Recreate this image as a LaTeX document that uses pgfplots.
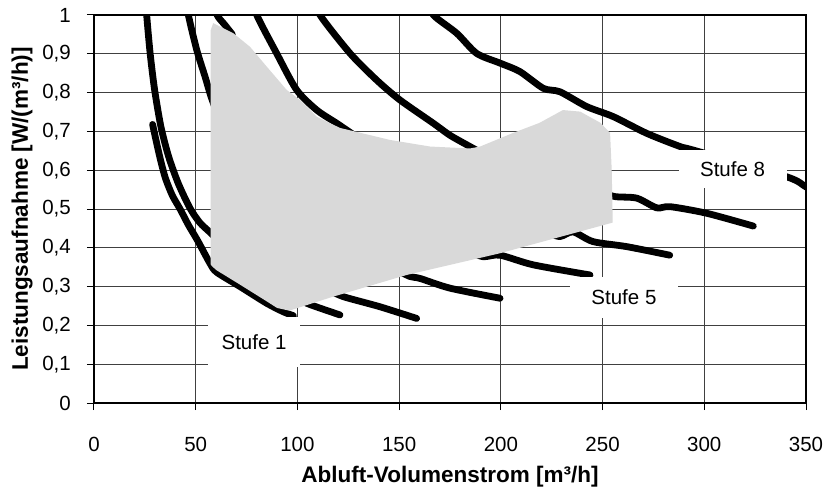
\documentclass[border=0pt]{standalone}
\usepackage{fontspec}
\setmainfont{Liberation Sans}
\usepackage{pgfplots}
\pgfplotsset{compat=1.18}
\begin{document}
\begin{tikzpicture}
\begin{axis}[
  scale only axis, width=712pt, height=388pt,
  xmin=0, xmax=350, ymin=0, ymax=1,
  xtick={0,50,100,150,200,250,300,350},
  ytick={0,0.1,0.2,0.3,0.4,0.5,0.6,0.7,0.8,0.9,1},
  /pgf/number format/assume math mode=true,
  yticklabel style={/pgf/number format/fixed, /pgf/number format/use comma, /pgf/number format/precision=1},
  tick label style={font=\fontsize{20.5}{24}\selectfont},
  label style={font=\bfseries\fontsize{22.5}{26}\selectfont},
  grid=major, grid style={black!75, line width=0.9pt},
  axis line style={line width=1.3pt},
  tick align=outside, major tick length=7pt, tick style={black, line width=1pt},
  xtick pos=left, ytick pos=left,
  xlabel={Abluft-Volumenstrom [m³/h]},
  ylabel={Leistungsaufnahme [W/(m³/h)]},
  xlabel style={at={(axis description cs:0.5,-0.1907)}, anchor=center},
  ylabel style={at={(axis description cs:-0.1011,0.5)}, anchor=center},
  xticklabel style={anchor=center, inner sep=0pt, yshift=-34pt},
  yticklabel style={anchor=east, inner sep=0pt, xshift=-16pt},
  curve/.style={black, line width=6.8pt, line cap=round, line join=round, no marks, smooth, tension=0.45},
]
% Stufe 1 (short inner curve)
\addplot[curve] coordinates {(28.8,0.718) (31,0.665) (33,0.62) (35.2,0.578) (38.5,0.535) (42.3,0.5) (46.5,0.458) (51,0.418) (57,0.36) (60.3,0.337) (71.8,0.3) (84.9,0.257) (93.1,0.235) (98,0.225)};
% curve A
\addplot[curve] coordinates {(25.8,1.03) (25.9,1.0) (27.6,0.901) (29.8,0.807) (32.9,0.712) (36.7,0.635) (41.5,0.565) (47.2,0.502) (52,0.465) (57,0.44) (62,0.415)};
\addplot[curve] coordinates {(98,0.275) (104.6,0.257) (112.5,0.242) (120.9,0.227)};
% curve B
\addplot[curve] coordinates {(46.2,1.03) (46.4,1.0) (50.5,0.91) (54.6,0.841) (57.5,0.79) (61,0.74)};
\addplot[curve] coordinates {(116,0.29) (122.6,0.274) (140.6,0.248) (158.6,0.218)};
% curve C
\addplot[curve] coordinates {(60.3,1.03) (60.5,1.0) (64.4,0.974) (68,0.95)};
\addplot[curve] coordinates {(148,0.345) (155.3,0.326) (160.3,0.321) (175,0.296) (199.6,0.27)};
% curve D
\addplot[curve] coordinates {(79.7,1.03) (80,1.0) (89.8,0.901) (99.6,0.807) (109.5,0.755) (119.3,0.721) (128,0.69)};
\addplot[curve] coordinates {(184,0.39) (191.4,0.377) (199.6,0.381) (216,0.356) (243.8,0.33)};
% curve T6
\addplot[curve] coordinates {(222,0.44) (229,0.429) (235.5,0.441) (245.3,0.416) (261.9,0.403) (283,0.381)};
% curve E
\addplot[curve] coordinates {(110.8,1.03) (111.1,1.0) (125.9,0.901) (139,0.832) (150.4,0.781) (166.8,0.721) (175,0.69) (184.8,0.661) (192,0.64)};
\addplot[curve] coordinates {(248,0.545) (256.1,0.532) (266.8,0.528) (276.6,0.503) (283.2,0.506) (301.2,0.489) (324.1,0.456)};
% curve F (Stufe 8)
\addplot[curve] coordinates {(166.5,1.03) (166.8,1.0) (178.3,0.953) (188.1,0.901) (199.6,0.876) (209.4,0.854) (220.9,0.811) (229.1,0.802) (242.2,0.764) (255.3,0.738) (271.7,0.695) (288.1,0.661) (294.5,0.652) (340.5,0.583) (350,0.557) (356,0.545)};
% grey operating range
\addplot[fill=black!15, draw=none] coordinates {(57.3,0.358) (57.3,0.96) (58.6,0.979) (68.5,0.953) (76.7,0.918) (84.9,0.867) (94.7,0.807) (101.3,0.781) (109.5,0.738) (120.9,0.709) (145.5,0.678) (165.2,0.661) (184.8,0.656) (189.8,0.661) (206,0.696) (219,0.722) (230.5,0.755) (239,0.751) (249,0.722) (253.7,0.696) (254.5,0.6) (255,0.465) (199.6,0.386) (153.7,0.33) (117.5,0.274) (96,0.238) (90,0.245) (84.9,0.262) (71.8,0.305) (60.3,0.342) (57.9,0.353)};
\node[fill=white, minimum width=92pt, minimum height=50pt, inner sep=0pt, font=\fontsize{20.5}{24}\selectfont] at (axis cs:78.7,0.157) {Stufe 1};
\node[fill=white, minimum width=108pt, minimum height=41pt, inner sep=0pt, font=\fontsize{20.5}{24}\selectfont] at (axis cs:260.5,0.272) {Stufe 5};
\node[fill=white, minimum width=108pt, minimum height=38pt, inner sep=0pt, font=\fontsize{20.5}{24}\selectfont] at (axis cs:313.9,0.603) {Stufe 8};
\end{axis}
\pgfresetboundingbox
\useasboundingbox (-94pt,-90pt) rectangle (732pt,403pt);
\end{tikzpicture}
\end{document}
